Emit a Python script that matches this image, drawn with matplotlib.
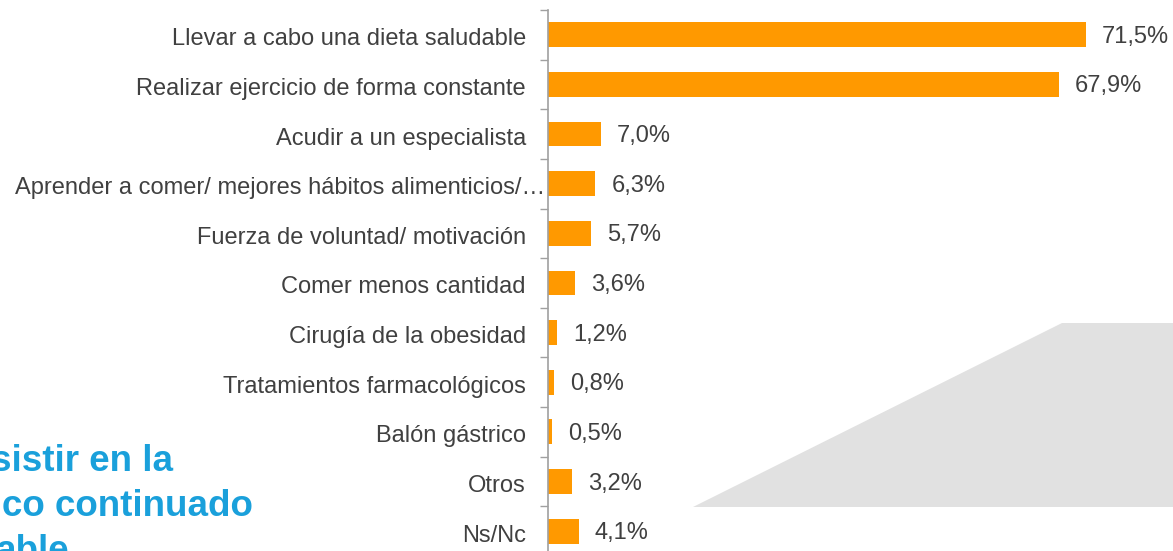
import matplotlib
matplotlib.use("Agg")
import matplotlib.pyplot as plt
from matplotlib.patches import Polygon
from matplotlib.transforms import ScaledTranslation

plt.rcParams['font.family'] = ['Liberation Sans', 'DejaVu Sans']

# respuestas (de arriba a abajo)
categorias = [
    "Llevar a cabo una dieta saludable",
    "Realizar ejercicio de forma constante",
    "Acudir a un especialista",
    "Aprender a comer/ mejores hábitos alimenticios/…",
    "Fuerza de voluntad/ motivación",
    "Comer menos cantidad",
    "Cirugía de la obesidad",
    "Tratamientos farmacológicos",
    "Balón gástrico",
    "Otros",
    "Ns/Nc",
]
porcentajes = [71.5, 67.9, 7.0, 6.3, 5.7, 3.6, 1.2, 0.8, 0.5, 3.2, 4.1]
etiquetas = ["71,5%", "67,9%", "7,0%", "6,3%", "5,7%", "3,6%",
             "1,2%", "0,8%", "0,5%", "3,2%", "4,1%"]
titulo = ["sistir en la", "co continuado", "able"]

W, H = 1173, 551
fig = plt.figure(figsize=(W / 100, H / 100), dpi=100)
fig.patch.set_facecolor('white')

# fondo gris
forma = Polygon([(693 / W, 1 - 507 / H), (1062 / W, 1 - 323 / H),
                 (1.0, 1 - 323 / H), (1.0, 1 - 507 / H)],
                closed=True, transform=fig.transFigure,
                facecolor='#e1e1e1', edgecolor='none', zorder=0)
fig.add_artist(forma)

# texto azul recortado a la izquierda (viene de otra diapositiva)
desplaz = [-9, 2, -4]
for i, linea in enumerate(titulo):
    fig.text(desplaz[i] / W, 1 - (471 + 45 * i) / H, linea, color='#1aa0db',
             fontsize=26.5, fontweight='bold', va='baseline', ha='left')

ax_left = 548 / W
ax_w = 7.52 * 100 / W
ax = fig.add_axes([ax_left, 1 - 556 / H, ax_w, (556 - 10) / H])
ax.patch.set_alpha(0)

y = list(range(len(categorias)))
ax.barh(y, porcentajes, height=0.5, color='#ff9900', zorder=2)
ax.set_xlim(0, 100)
ax.set_ylim(len(categorias) - 0.5, -0.5)

for yi, v, t in zip(y, porcentajes, etiquetas):
    ax.annotate(t, (v, yi), xytext=(16, -2), textcoords='offset pixels',
                va='center', ha='left', fontsize=17, color='#404040')

ax.set_yticks(y)
ax.set_yticklabels(categorias, fontsize=17, color='#404040')
ax.tick_params(axis='y', which='major', length=0, pad=16)
ax.set_yticks([i - 0.5 for i in range(len(categorias) + 1)], minor=True)
ax.tick_params(axis='y', which='minor', length=6, width=1, color='#a0a0a0')
ax.set_xticks([])

# bajar un poco las etiquetas; la larga llega casi hasta el eje
for i, lbl in enumerate(ax.get_yticklabels()):
    dx = 0.19 if i == 3 else 0.0
    lbl.set_transform(lbl.get_transform() +
                      ScaledTranslation(dx, -0.02, fig.dpi_scale_trans))

for s in ['top', 'right', 'bottom']:
    ax.spines[s].set_visible(False)
ax.spines['left'].set_color('#a0a0a0')
ax.spines['left'].set_linewidth(1.2)

fig.savefig('out.png', dpi=100)
